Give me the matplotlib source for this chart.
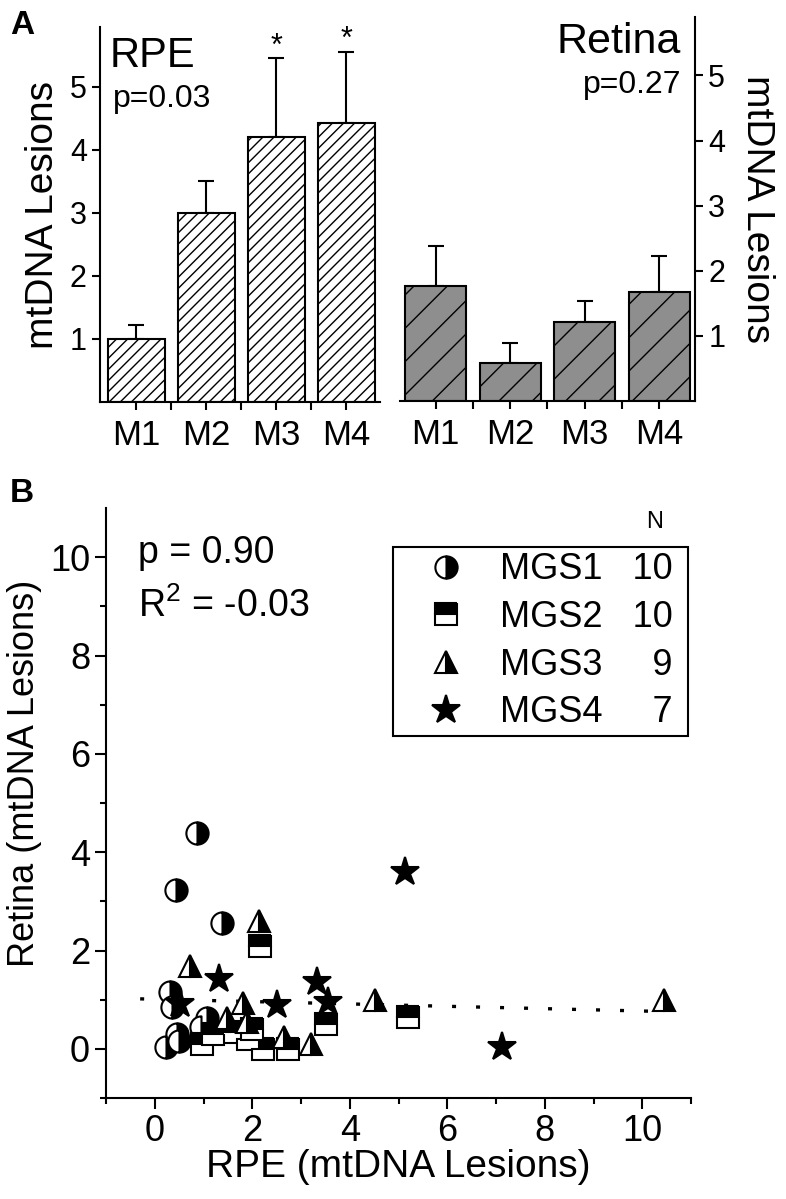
import matplotlib
matplotlib.use("Agg")
import matplotlib.pyplot as plt

plt.rcParams['font.family'] = ['Liberation Sans', 'DejaVu Sans']
plt.rcParams['mathtext.fontset'] = 'custom'
plt.rcParams['mathtext.rm'] = 'Liberation Sans'
plt.rcParams['hatch.linewidth'] = 1.0

# panel A
groups = ["M1", "M2", "M3", "M4"]
rpe_mean = [1.0, 3.0, 4.21, 4.43]
rpe_err = [0.22, 0.51, 1.25, 1.13]
retina_mean = [1.77, 0.58, 1.22, 1.68]
retina_err = [0.61, 0.31, 0.32, 0.54]
rpe_signif = [False, False, True, True]

# panel B (RPE x, Retina y) per group
mgs1_x = [0.87, 0.44, 1.38, 0.32, 0.35, 0.45, 0.22, 1.07, 0.5, 0.95]
mgs1_y = [4.39, 3.24, 2.55, 1.16, 0.85, 0.3, 0.03, 0.62, 0.15, 0.45]
mgs2_x = [2.15, 5.19, 3.52, 0.97, 1.6, 1.92, 2.23, 2.74, 1.2, 2.0]
mgs2_y = [2.1, 0.65, 0.5, 0.1, 0.35, 0.2, 0.0, 0.0, 0.3, 0.4]
mgs3_x = [2.14, 0.73, 4.51, 1.8, 2.65, 3.2, 10.44, 1.48, 1.9]
mgs3_y = [2.6, 1.68, 1.0, 0.93, 0.25, 0.1, 1.0, 0.62, 0.55]
mgs4_x = [5.14, 7.12, 1.31, 2.5, 3.32, 3.56, 0.52]
mgs4_y = [3.59, 0.03, 1.42, 0.89, 1.36, 0.95, 0.91]
group_n = [10, 10, 9, 7]
fit_x = [-0.3, 10.3]
fit_intercept = 1.01
fit_slope = -0.024

fig = plt.figure(figsize=(7.86, 11.99), dpi=100)

ax1 = fig.add_axes([0.1272, 0.6647, 0.3562, 0.3128])
ax2 = fig.add_axes([0.5089, 0.6656, 0.3753, 0.3203])
ax3 = fig.add_axes([0.1349, 0.0842, 0.7443, 0.4921])

x = list(range(len(groups)))

# RPE bars
ax1.bar(x, rpe_mean, width=0.82, color="white", edgecolor="black",
        linewidth=1.5, hatch="///", zorder=2)
ax1.errorbar(x, rpe_mean, yerr=[[0] * 4, rpe_err], fmt="none", ecolor="black",
             elinewidth=1.5, capsize=6, capthick=1.5, zorder=1)
for i, s in enumerate(rpe_signif):
    if s:
        ax1.text(x[i], rpe_mean[i] + rpe_err[i] - 0.06, "*", ha="center",
                 va="bottom", fontsize=22)
ax1.set_xlim(-0.52, 3.48)
ax1.set_ylim(0, 5.95)
ax1.set_yticks([1, 2, 3, 4, 5])
ax1.set_xticks(x)
ax1.set_xticklabels(groups)
ax1.set_xticks([0.5, 1.5, 2.5], minor=True)
ax1.set_ylabel("mtDNA Lesions", fontsize=28, labelpad=6)
ax1.text(0.036, 0.893, "RPE", transform=ax1.transAxes, fontsize=30, va="baseline")
ax1.text(0.045, 0.787, "p=0.03", transform=ax1.transAxes, fontsize=23, va="baseline")
for s in ["top", "right"]:
    ax1.spines[s].set_visible(False)

# Retina bars
ax2.bar(x, retina_mean, width=0.82, color="#8e8e8e", edgecolor="black",
        linewidth=1.5, hatch="/", zorder=2)
ax2.errorbar(x, retina_mean, yerr=[[0] * 4, retina_err], fmt="none", ecolor="black",
             elinewidth=1.5, capsize=6, capthick=1.5, zorder=1)
ax2.set_xlim(-0.48, 3.48)
ax2.set_ylim(0, 5.9)
ax2.set_yticks([1, 2, 3, 4, 5])
ax2.set_xticks(x)
ax2.set_xticklabels(groups)
ax2.set_xticks([0.5, 1.5, 2.5], minor=True)
ax2.yaxis.tick_right()
ax2.yaxis.set_label_position("right")
ax2.set_ylabel("mtDNA Lesions", fontsize=28, rotation=270, labelpad=36)
ax2.text(0.953, 0.906, "Retina", transform=ax2.transAxes, fontsize=31,
         va="baseline", ha="right")
ax2.text(0.953, 0.802, "p=0.27", transform=ax2.transAxes, fontsize=23,
         va="baseline", ha="right")
for s in ["top", "left"]:
    ax2.spines[s].set_visible(False)

for ax in (ax1, ax2):
    for s in ax.spines.values():
        s.set_linewidth(1.5)
    ax.tick_params(axis="y", which="major", direction="out", length=6, width=1.5,
                   labelsize=22)
    ax.tick_params(axis="x", which="both", direction="out", length=6, width=1.5,
                   labelsize=25, pad=6)

# scatter
mk = dict(linestyle="none", markersize=16, markeredgecolor="black",
          markerfacecolor="black", markerfacecoloralt="white",
          markeredgewidth=1.5)
ax3.plot(mgs1_x, mgs1_y, marker="o", fillstyle="right", **mk, label="MGS1")
ax3.plot(mgs2_x, mgs2_y, marker="s", fillstyle="top", **mk, label="MGS2")
ax3.plot(mgs3_x, mgs3_y, marker="^", fillstyle="right", **mk, label="MGS3")
mk4 = dict(mk)
mk4["markersize"] = 21
ax3.plot(mgs4_x, mgs4_y, marker="*", **mk4, label="MGS4")
fit_y = [fit_intercept + fit_slope * v for v in fit_x]
ax3.plot(fit_x, fit_y, color="black", linewidth=2.4, linestyle=(0, (1.2, 6.0)),
         zorder=0)

ax3.set_xlim(-1, 11)
ax3.set_ylim(-1, 11)
ax3.set_xticks([0, 2, 4, 6, 8, 10])
ax3.set_xticks([-1, 1, 3, 5, 7, 9, 11], minor=True)
ax3.set_yticks([0, 2, 4, 6, 8, 10])
ax3.set_yticks([-1, 1, 3, 5, 7, 9], minor=True)
for s in ["top", "right"]:
    ax3.spines[s].set_visible(False)
for s in ["left", "bottom"]:
    ax3.spines[s].set_linewidth(1.5)
ax3.tick_params(which="major", direction="out", length=8, width=1.5, labelsize=26)
ax3.tick_params(which="minor", direction="out", length=4, width=1.5)
ax3.set_xlabel("RPE (mtDNA Lesions)", fontsize=28, labelpad=0)
ax3.set_ylabel("Retina (mtDNA Lesions)", fontsize=26)
ax3.yaxis.set_label_coords(-0.11, 0.55)
ax3.text(0.055, 0.907, "p = 0.90", transform=ax3.transAxes, fontsize=27, va="baseline")
ax3.text(0.055, 0.815, r"R$^2$ = -0.03", transform=ax3.transAxes, fontsize=27,
         va="baseline")

names = ax3.get_legend_handles_labels()
labels = []
for name, n in zip(names[1], group_n):
    labels.append(name + " " * (3 if n >= 10 else 5) + str(n) + " ")
leg = ax3.legend(names[0], labels, loc="upper right", bbox_to_anchor=(0.995, 0.934),
                 fontsize=26, frameon=True, fancybox=False, borderaxespad=0,
                 handlelength=2.6, handletextpad=0.2, labelspacing=0.35,
                 borderpad=0.15, framealpha=1)
leg.get_frame().set_edgecolor("black")
leg.get_frame().set_linewidth(1.5)
ax3.text(0.938, 0.976, "N", transform=ax3.transAxes, fontsize=17, ha="center",
         va="center")

fig.text(0.013, 0.972, "A", fontsize=24, fontweight="bold", va="baseline")
fig.text(0.013, 0.581, "B", fontsize=24, fontweight="bold", va="baseline")

fig.savefig("out.png", dpi=100)
